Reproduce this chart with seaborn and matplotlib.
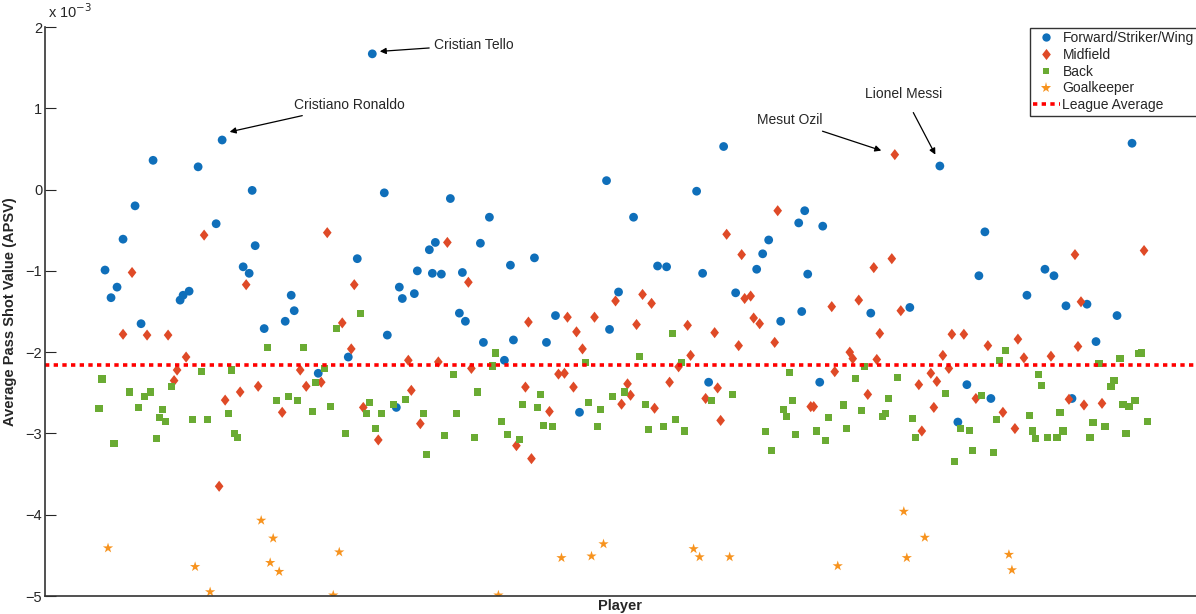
import numpy as np
import pandas as pd
import seaborn as sns
import matplotlib
matplotlib.use("Agg")
import matplotlib.pyplot as plt

# ---- data (APSV in units of 1e-3, x = player index) ----
fw_x = [15, 17, 19, 21, 25, 27, 31, 40, 41, 43, 46, 52, 54, 61, 63, 64, 65, 68, 75, 77,
        78, 86, 96, 99, 104, 108, 109, 112, 113, 114, 118, 119, 123, 124, 125, 127, 130, 133, 134, 135,
        140, 141, 143, 148, 150, 151, 158, 162, 165, 173, 182, 183, 186, 191, 199, 202, 212, 214, 216, 221,
        225, 232, 234, 236, 240, 246, 247, 248, 249, 253, 254, 270, 283, 293, 299, 302, 306, 308, 310, 322,
        328, 331, 335, 337, 342, 345, 352, 357]
fw_y = [-0.99, -1.33, -1.20, -0.61, -0.20, -1.65, 0.36, -1.36, -1.30, -1.25,
        0.28, -0.42, 0.61, -0.95, -1.03, -0.01, -0.69, -1.71, -1.62, -1.30,
        -1.49, -2.26, -2.06, -0.85, 1.67, -0.04, -1.79, -2.68, -1.20, -1.34,
        -1.28, -1.00, -0.74, -1.03, -0.65, -1.04, -0.11, -1.52, -1.02, -1.62,
        -0.66, -1.88, -0.34, -2.10, -0.93, -1.85, -0.84, -1.88, -1.55, -2.74,
        0.11, -1.72, -1.26, -0.34, -0.94, -0.95, -0.02, -1.03, -2.37, 0.53,
        -1.27, -0.98, -0.79, -0.62, -1.62, -0.41, -1.50, -0.26, -1.04, -2.37,
        -0.45, -1.52, -1.45, 0.29, -2.86, -2.40, -1.06, -0.52, -2.57, -1.30,
        -0.98, -1.06, -1.43, -2.57, -1.41, -1.87, -1.55, 0.57]

mf_x = [21, 24, 29, 36, 38, 39, 42, 48, 53, 55, 60, 62, 66, 74, 80, 82, 87, 89, 94, 97,
        98, 101, 106, 116, 117, 120, 126, 129, 136, 137, 152, 155, 156, 157, 163, 166, 168, 169, 171, 172,
        174, 178, 185, 187, 189, 190, 192, 194, 197, 198, 203, 206, 209, 210, 215, 218, 219, 220, 222, 226,
        227, 228, 230, 231, 233, 238, 239, 250, 251, 257, 258, 263, 264, 266, 269, 271, 272, 273, 277, 278,
        280, 286, 287, 290, 291, 292, 294, 296, 297, 301, 305, 309, 314, 318, 319, 321, 330, 336, 338, 339,
        340, 341, 347, 361]
mf_y = [-1.78, -1.02, -1.79, -1.79, -2.35, -2.22, -2.06, -0.56, -3.65, -2.59,
        -2.49, -1.17, -2.42, -2.74, -2.22, -2.42, -2.37, -0.53, -1.64, -1.96,
        -1.17, -2.68, -3.08, -2.10, -2.47, -2.88, -2.12, -0.65, -1.14, -2.20,
        -3.15, -2.43, -1.63, -3.31, -2.73, -2.27, -2.26, -1.57, -2.43, -1.75,
        -1.96, -1.57, -1.37, -2.64, -2.39, -2.53, -1.66, -1.29, -1.40, -2.69,
        -2.37, -2.18, -1.67, -2.04, -2.57, -1.76, -2.44, -2.84, -0.55, -1.92,
        -0.80, -1.34, -1.31, -1.58, -1.65, -1.88, -0.26, -2.67, -2.67, -1.44,
        -2.24, -2.00, -2.08, -1.36, -2.52, -0.96, -2.09, -1.77, -0.85, 0.43,
        -1.49, -2.40, -2.97, -2.26, -2.68, -2.36, -2.04, -2.20, -1.78, -1.78,
        -2.57, -1.92, -2.74, -2.94, -1.84, -2.07, -2.05, -2.58, -0.80, -1.93,
        -1.38, -2.65, -2.63, -0.75]

bk_x = [13, 14, 18, 23, 26, 28, 30, 32, 33, 34, 35, 37, 44, 47, 49, 56, 57, 58, 59, 69,
        72, 76, 79, 81, 84, 85, 88, 90, 92, 95, 100, 102, 103, 105, 107, 111, 115, 121, 122, 128,
        131, 132, 138, 139, 144, 145, 147, 149, 153, 154, 159, 160, 161, 164, 175, 176, 179, 180, 184, 188,
        193, 195, 196, 201, 204, 205, 207, 208, 217, 224, 235, 237, 241, 242, 243, 244, 245, 252, 255, 256,
        261, 262, 265, 267, 268, 274, 275, 276, 279, 284, 285, 295, 298, 300, 303, 304, 307, 311, 312, 313,
        315, 323, 324, 325, 326, 327, 329, 332, 333, 334, 343, 344, 346, 348, 350, 351, 353, 354, 355, 356,
        358, 359, 360, 362]
bk_y = [-2.69, -2.33, -3.12, -2.49, -2.68, -2.55, -2.49, -3.06, -2.80, -2.71,
        -2.85, -2.42, -2.83, -2.24, -2.83, -2.76, -2.22, -3.00, -3.05, -1.94,
        -2.59, -2.55, -2.59, -1.94, -2.73, -2.37, -2.20, -2.67, -1.71, -3.00,
        -1.53, -2.76, -2.62, -2.94, -2.75, -2.64, -2.58, -2.75, -3.26, -3.02,
        -2.27, -2.75, -3.05, -2.49, -2.17, -2.01, -2.85, -3.01, -3.08, -2.64,
        -2.68, -2.52, -2.90, -2.91, -2.13, -2.62, -2.92, -2.71, -2.55, -2.49,
        -2.05, -2.64, -2.95, -2.92, -1.77, -2.83, -2.13, -2.97, -2.59, -2.52,
        -2.98, -3.21, -2.70, -2.79, -2.25, -2.60, -3.01, -2.97, -3.09, -2.80,
        -2.65, -2.94, -2.32, -2.72, -2.18, -2.79, -2.75, -2.57, -2.31, -2.82,
        -3.05, -2.51, -3.34, -2.94, -2.96, -3.21, -2.53, -3.23, -2.83, -2.10,
        -1.98, -2.78, -2.97, -3.06, -2.28, -2.41, -3.05, -3.05, -2.74, -2.97,
        -3.05, -2.86, -2.14, -2.91, -2.42, -2.35, -2.08, -2.64, -3.00, -2.67,
        -2.59, -2.02, -2.01, -2.85]

gk_x = [16, 45, 50, 67, 70, 71, 73, 91, 93, 146, 167, 177, 181, 211, 213, 223, 259, 281, 282, 288, 316, 317]
gk_y = [-4.41, -4.64, -4.95, -4.07, -4.59, -4.29, -4.70, -4.99, -4.46, -4.99, -4.53,
        -4.51, -4.36, -4.42, -4.52, -4.52, -4.63, -3.96, -4.53, -4.28, -4.49, -4.68]

league_avg = -2.16

# name, player index, APSV, text position
callouts = [
    ("Cristian Tello", 104, 1.67, (124.5, 1.78)),
    ("Cristiano Ronaldo", 54, 0.61, (78, 1.04)),
    ("Mesut Ozil", 278, 0.43, (254, 0.85)),
    ("Lionel Messi", 293, 0.29, (268, 1.18)),
]

groups = ["Forward/Striker/Wing", "Midfield", "Back", "Goalkeeper"]
df = pd.concat([
    pd.DataFrame({"Player": fw_x, "APSV": fw_y, "Position": groups[0]}),
    pd.DataFrame({"Player": mf_x, "APSV": mf_y, "Position": groups[1]}),
    pd.DataFrame({"Player": bk_x, "APSV": bk_y, "Position": groups[2]}),
    pd.DataFrame({"Player": gk_x, "APSV": gk_y, "Position": groups[3]}),
], ignore_index=True)

# diamond a bit slimmer than matplotlib's 'D'
diamond = [(0, 1), (0.78, 0), (0, -1), (-0.78, 0), (0, 1)]

colors = {groups[0]: "#0F6FBA", groups[1]: "#DF4A27", groups[2]: "#6AAB33", groups[3]: "#F7931E"}
markers = {groups[0]: "o", groups[1]: diamond, groups[2]: "s", groups[3]: "*"}
sizes = {groups[0]: 40, groups[1]: 64, groups[2]: 26, groups[3]: 60}
leg_ms = {groups[0]: 6, groups[1]: 8, groups[2]: 5, groups[3]: 8}

sns.set_style("white")
plt.rcParams['font.family'] = ['Liberation Sans', 'DejaVu Sans']

fig = plt.figure(figsize=(11.96, 6.14), dpi=100)
ax = fig.add_axes([0.0376, 0.0293, 0.9624, 0.9267])

handles = []
for g in groups:
    sub = df[df["Position"] == g]
    sns.scatterplot(data=sub, x="Player", y="APSV", color=colors[g], s=sizes[g],
                    marker=markers[g], edgecolor="none", linewidth=0, ax=ax, legend=False)
    handles.append(plt.Line2D([], [], linestyle="none", marker=markers[g], color=colors[g],
                              markersize=leg_ms[g], markeredgewidth=0, label=g))

ax.axhline(league_avg, color="#FF0000", linestyle=(0, (1.2, 1.2)), linewidth=2.6)
handles.append(plt.Line2D([], [], color="#FF0000", linestyle=(0, (1.2, 1.2)), linewidth=2.6,
                          label="League Average"))

arrow_kw = dict(arrowstyle="-|>", color="black", lw=0.9, shrinkB=0, mutation_scale=9)
for name, px, py, (tx, ty) in callouts:
    if name == "Lionel Messi":
        ax.annotate(name, xy=(px - 1.5, py + 0.14), xytext=(tx, ty), fontsize=10,
                    ha="left", va="center", arrowprops=dict(shrinkA=7, **arrow_kw))
    else:
        dx = {"Cristian Tello": 2.5, "Cristiano Ronaldo": 2.5, "Mesut Ozil": -4.5}[name]
        dy = {"Cristian Tello": 0.03, "Cristiano Ronaldo": 0.10, "Mesut Ozil": 0.05}[name]
        ha = "right" if name == "Mesut Ozil" else "left"
        ax.annotate(name, xy=(px + dx, py + dy), xytext=(tx, ty), fontsize=10,
                    ha=ha, va="center", arrowprops=dict(shrinkA=1, **arrow_kw))

ax.set_xlim(-5, 378.3)
ax.set_ylim(-5, 2)
ax.set_yticks(range(-5, 3))
ax.set_yticklabels([str(v).replace("-", "\u2212") for v in range(-5, 3)], fontsize=10.5)
ax.set_xticks([])
ax.tick_params(axis="y", direction="in", length=8, width=0.8, pad=2, left=True)
for side in ["top", "right"]:
    ax.spines[side].set_visible(False)
for side in ["left", "bottom"]:
    ax.spines[side].set_color("#333333")
    ax.spines[side].set_linewidth(1.2)

ax.set_xlabel("Player", fontsize=10.5, fontweight="bold", labelpad=2)
ax.set_ylabel("Average Pass Shot Value (APSV)", fontsize=10.5, fontweight="bold", labelpad=6)

fig.text(0.040, 0.965, "x 10$^{-3}$", fontsize=10.5, ha="left", va="bottom")

leg = fig.legend(handles=handles, loc="upper left", bbox_to_anchor=(0.861, 0.955),
                 fontsize=10, frameon=True, fancybox=False, edgecolor="black",
                 borderpad=0.25, labelspacing=0.2, handlelength=1.9, handletextpad=0.2,
                 borderaxespad=0)
leg.get_frame().set_linewidth(1.0)

fig.savefig("out.png", dpi=100)
